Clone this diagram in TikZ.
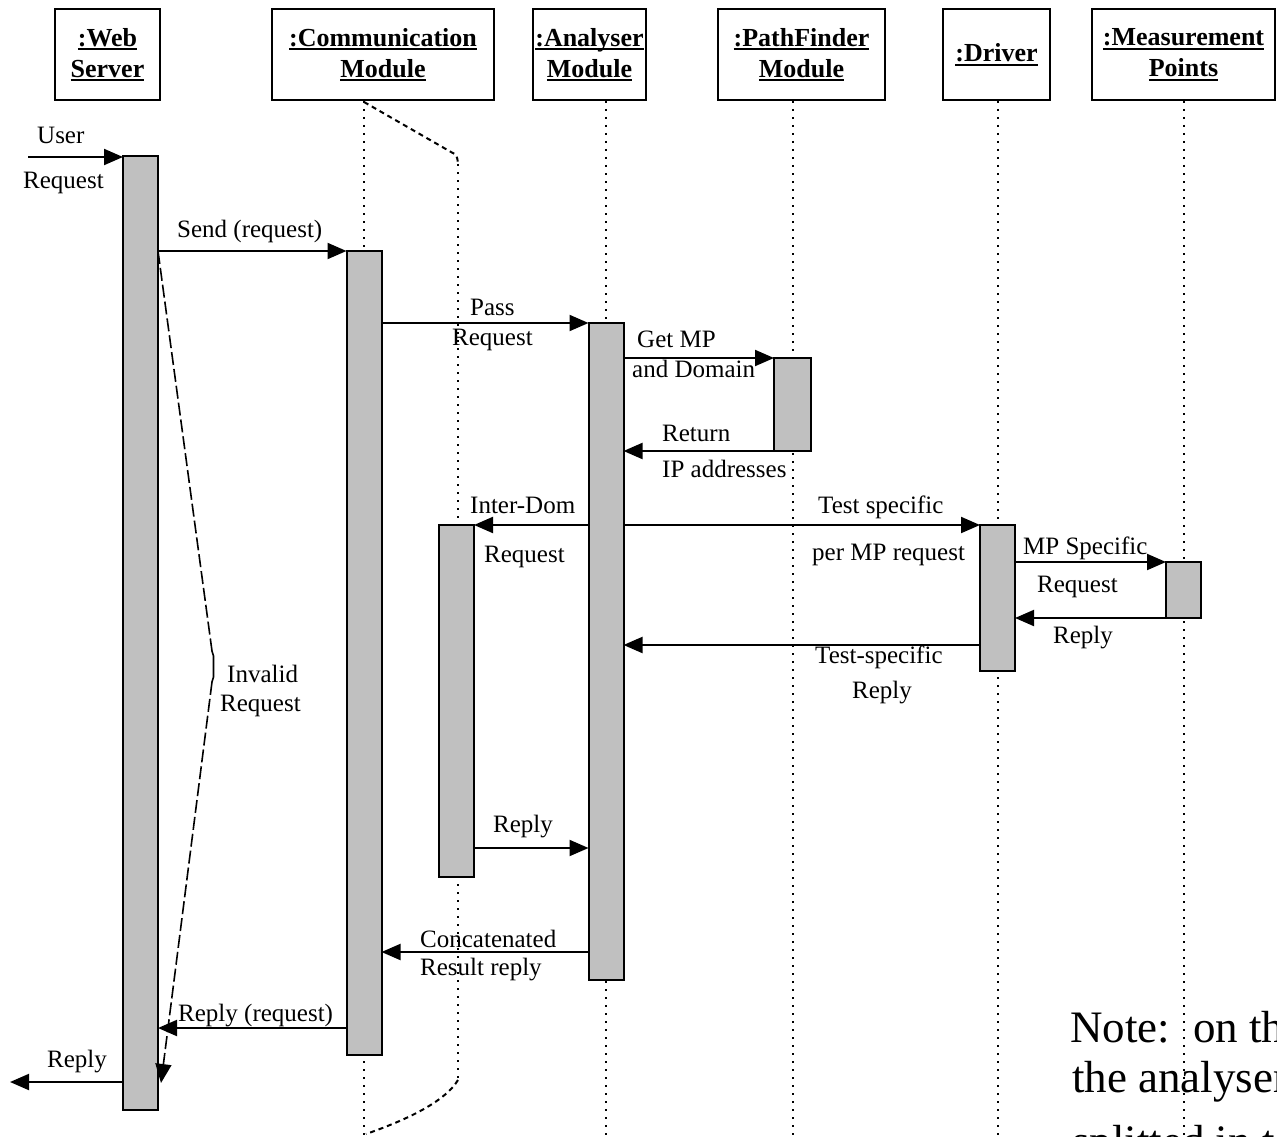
\documentclass[tikz,border=0pt]{standalone}
\usepackage{fontspec}
\setmainfont{Liberation Serif}
\usetikzlibrary{arrows.meta,calc}
\definecolor{barfill}{RGB}{192,192,192}
\newcommand{\myul}[1]{\setbox0\hbox{#1}\rlap{\rule[-4pt]{\wd0}{1.8pt}}\box0}
\tikzset{
  hdr/.style={draw, line width=2pt, minimum height=91pt, inner sep=0pt, align=center,
    font=\fontsize{26}{31}\selectfont\bfseries},
  actbar/.style={draw, fill=barfill, line width=2pt, minimum width=35pt, inner sep=0pt, outer sep=0pt},
  life/.style={line width=2pt, dash pattern=on 2pt off 6pt},
  split/.style={line width=2pt, dash pattern=on 5pt off 4pt},
  msg/.style={line width=2pt, -{Triangle[length=19pt,width=16pt]}},
  inval/.style={line width=1.6pt, dash pattern=on 13pt off 4pt},
  lbl/.style={anchor=base west, inner sep=0pt, font=\fontsize{25}{28}\selectfont},
  notetxt/.style={anchor=base west, inner sep=0pt, font=\fontsize{45}{50}\selectfont},
}
\begin{document}
\begin{tikzpicture}[x=1pt,y=-1pt]
\useasboundingbox (0,0) rectangle (1277,1137);
\clip (0,0) rectangle (1277,1137);
\fill[white] (0,0) rectangle (1277,1137);

% header boxes
\node[hdr, minimum width=105pt] (ws) at (107.5,54.5) {\myul{:Web}\\\myul{Server}};
\node[hdr, minimum width=222pt] (cm) at (383,54.5) {\myul{:Communication}\\\myul{Module}};
\node[hdr, minimum width=113pt] (an) at (589.5,54.5) {\myul{:Analyser}\\\myul{Module}};
\node[hdr, minimum width=167pt] (pf) at (801.5,54.5) {\myul{:PathFinder}\\\myul{Module}};
\node[hdr, minimum width=107pt] (dr) at (996.5,54.5) {\myul{:Driver}};
\node[hdr, minimum width=183pt] (mp) at (1183.5,54.5) {\myul{:Measurement}\\\myul{Points}};

% bottom reference
\coordinate (bot) at (0,1140);

% activation bar centres
\path (140.5,633) coordinate (wsc) (364,653) coordinate (cmc) (456.5,701) coordinate (idc)
      (606,651.5) coordinate (anc) (792.5,404.5) coordinate (pfc) (997.5,598) coordinate (drc)
      (1183.5,590) coordinate (mpc);

% lifelines
\draw[life] (cmc |- cm.south) -- (cmc |- bot);
\draw[life] (anc |- an.south) -- (anc |- bot);
\draw[life] (pfc |- pf.south) -- (pfc |- bot);
\draw[life] (drc |- dr.south) -- (drc |- bot);
\draw[life] (mpc |- mp.south) -- (mpc |- bot);

% split lifeline of communication module
\coordinate (sp0) at (364,102);
\coordinate (sp1) at (451,152);
\coordinate (sp2) at (458,164);
\coordinate (sp3) at (458,1080);
\coordinate (sp4) at (366,1134);
\draw[split] (sp0) -- (sp1) .. controls (457,155) .. (sp2);
\draw[life] (sp2) -- (sp3);
\draw[split] (sp3) .. controls (446,1100) and (412,1118) .. (sp4);

% activation bars
\node[actbar, minimum height=954pt] (wsbar) at (wsc) {};
\node[actbar, minimum height=804pt] (cmbar) at (cmc) {};
\node[actbar, minimum height=352pt] (idbar) at (idc) {};
\node[actbar, minimum height=657pt] (anbar) at (anc) {};
\node[actbar, minimum height=93pt, minimum width=37pt] (pfbar) at (pfc) {};
\node[actbar, minimum height=146pt] (drbar) at (drc) {};
\node[actbar, minimum height=56pt] (mpbar) at (mpc) {};

% message levels
\coordinate (uin) at (28,157);
\coordinate (ysend) at (0,251);
\coordinate (ypass) at (0,323);
\coordinate (yget) at (0,358);
\coordinate (yret) at (0,451);
\coordinate (yid) at (0,525);
\coordinate (ymps) at (0,562);
\coordinate (ympr) at (0,618);
\coordinate (ytsr) at (0,645);
\coordinate (yidr) at (0,848);
\coordinate (ycat) at (0,952);
\coordinate (yrr) at (0,1028);
\coordinate (uout) at (10,1082);

\draw[msg] (uin) -- (wsbar.west |- uin);
\draw[msg] (wsbar.east |- ysend) -- (cmbar.west |- ysend);
\draw[msg] (cmbar.east |- ypass) -- (anbar.west |- ypass);
\draw[msg] (anbar.east |- yget) -- (pfbar.west |- yget);
\draw[msg] (pfbar.west |- yret) -- (anbar.east |- yret);
\draw[msg] (anbar.west |- yid) -- (idbar.east |- yid);
\draw[msg] (anbar.east |- yid) -- (drbar.west |- yid);
\draw[msg] (drbar.east |- ymps) -- (mpbar.west |- ymps);
\draw[msg] (mpbar.west |- ympr) -- (drbar.east |- ympr);
\draw[msg] (drbar.west |- ytsr) -- (anbar.east |- ytsr);
\draw[msg] (idbar.east |- yidr) -- (anbar.west |- yidr);
\draw[msg] (anbar.west |- ycat) -- (cmbar.east |- ycat);
\draw[msg] (cmbar.west |- yrr) -- (wsbar.east |- yrr);
\draw[msg] (wsbar.west |- uout) -- (uout);

% invalid request (dashed)
\coordinate (iv1) at (212,651);
\coordinate (iv2) at (212,682);
\coordinate (iv3) at (161,1083);
\draw[inval] (wsbar.east |- ysend) -- (iv1);
\draw[line width=1.6pt] (iv1) -- (213.5,656) -- (213.5,677) -- (iv2);
\draw[inval, -{Triangle[length=19pt,width=16pt]}] (iv2) -- (iv3);

% labels
\node[lbl] (l1) at (37,143) {User};
\node[lbl] (l2) at (23,189) {Request};
\node[lbl] (l3) at (177,237) {Send (request)};
\node[lbl] (l4) at (470,315) {Pass};
\node[lbl] (l5) at (452,345) {Request};
\node[lbl] (l6) at (637,347) {Get MP};
\node[lbl] (l7) at (632,377) {and Domain};
\node[lbl] (l8) at (662,441) {Return};
\node[lbl] (l9) at (662,477) {IP addresses};
\node[lbl] (l10) at (470,513) {Inter-Dom};
\node[lbl] (l11) at (484,562) {Request};
\node[lbl] (l12) at (818,513) {Test specific};
\node[lbl] (l13) at (812,560) {per MP request};
\node[lbl] (l14) at (1023,554) {MP Specific};
\node[lbl] (l15) at (1037,592) {Request};
\node[lbl] (l16) at (1053,643) {Reply};
\node[lbl] (l17) at (815,663) {Test-specific};
\node[lbl] (l18) at (852,698) {Reply};
\node[lbl] (l19) at (227,682) {Invalid};
\node[lbl] (l20) at (220,711) {Request};
\node[lbl] (l21) at (493,832) {Reply};
\node[lbl] (l22) at (420,947) {Concatenated};
\node[lbl] (l23) at (420,975) {Result reply};
\node[lbl] (l24) at (178,1021) {Reply (request)};
\node[lbl] (l25) at (47,1067) {Reply};

% note (clipped at the picture edge, as in the reference)
\node[notetxt] (n1) at (1070,1042) {Note:\hspace{23pt}on the};
\node[notetxt] (n2) at (1072,1092) {the analyser};
\node[notetxt] (n3) at (1072,1156) {splitted in t};
\end{tikzpicture}
\end{document}
